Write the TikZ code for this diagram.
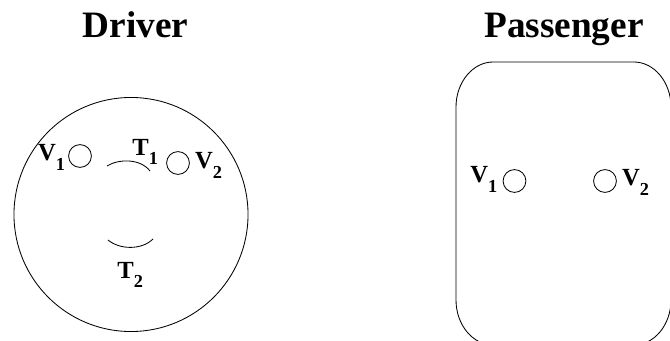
\documentclass[tikz,border=0pt]{standalone}
\usepackage{fontspec}
\setmainfont{Liberation Serif}
\usetikzlibrary{positioning}

\newcommand{\idx}[1]{\raisebox{-7pt}{\fontsize{13}{13}\selectfont #1}}

\begin{document}
\begin{tikzpicture}[
		x=0.025cm, y=-0.025cm,
		hole/.style={circle, draw=black, minimum size=0.57cm, inner sep=0pt},
		lbl/.style={font=\fontsize{17.5}{17.5}\selectfont\bfseries, inner sep=0pt},
		title/.style={font=\fontsize{26.5}{26.5}\selectfont\bfseries, inner sep=0pt},
		line width=0.6pt
		]
		\useasboundingbox (0,0) rectangle (670,341);
		\clip (0,0) rectangle (670,341);
		
		% Titles
		\node[title, anchor=base] (driver) at (135.5,37.5) {Driver};
		\node[title, anchor=base] (passenger) at (564,37.5) {Passenger};
		
		% Driver side
		\node[circle, draw=black, minimum size=5.85cm, inner sep=0pt] (wheel) at (131,214.5) {};
		\node[hole] (dv1) at (80,156) {};
		\node[hole] (dv2) at (178,163) {};
		\node[lbl, base left=2pt of dv1, yshift=-3.3pt] (dv1l) {V\idx{1}};
		\node[lbl, base right=3.5pt of dv2, yshift=-3.8pt] (dv2l) {V\idx{2}};
		
		\draw (107,166) .. controls (118,159) and (140,158) .. (150,171);
		\draw (108,240) .. controls (120,250) and (142,250) .. (153,239);
		\node[lbl, anchor=base west] (dt1) at (132,155) {T\idx{1}};
		\node[lbl, anchor=base west] (dt2) at (117,278) {T\idx{2}};
		
		% Passenger side
		\draw (456,107) .. controls (456,82) and (473,62) .. (493,62) -- (634,62)
		.. controls (654,62) and (671,82) .. (671,107) -- (671,300)
		.. controls (671,325) and (654,345) .. (634,345) -- (493,345)
		.. controls (473,345) and (456,325) .. (456,300) -- cycle;
		\node[hole] (pv1) at (514.5,181) {};
		\node[hole] (pv2) at (605,181) {};
		\node[lbl, base left=3.5pt of pv1, yshift=-1pt] (pv1l) {V\idx{1}};
		\node[lbl, base right=3.5pt of pv2, yshift=-3.3pt] (pv2l) {V\idx{2}};
		
	\end{tikzpicture}
\end{document}
